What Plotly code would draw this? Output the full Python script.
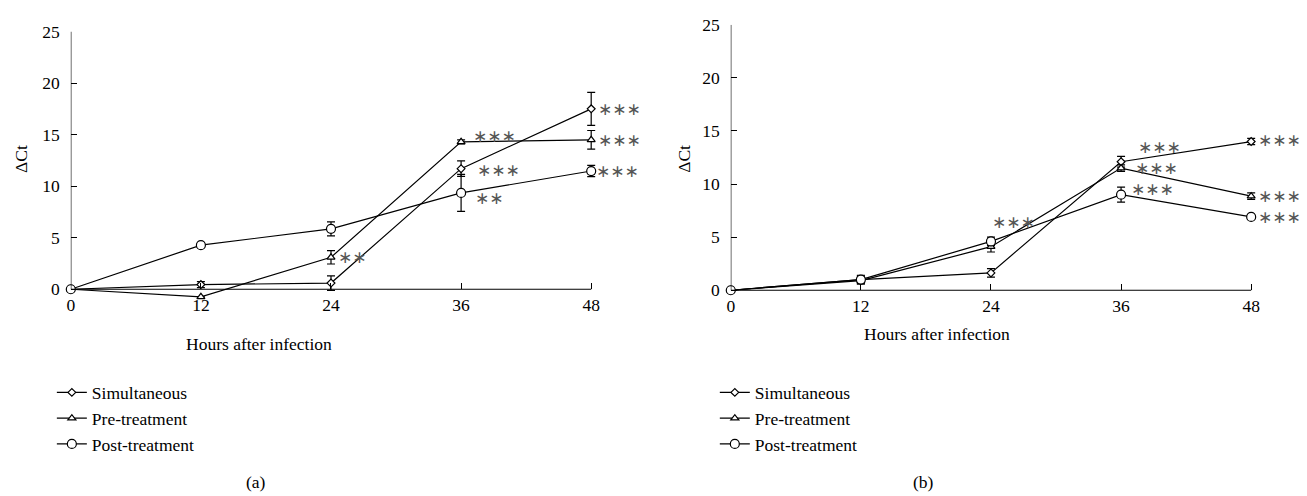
import plotly.graph_objects as go

# ---------------- data ----------------
hours = [0, 12, 24, 36, 48]
series_names = ["Simultaneous", "Pre-treatment", "Post-treatment"]

a_sim = [0, 0.45, 0.6, 11.7, 17.5]
a_sim_err = [0, 0.3, 0.7, 0.75, 1.6]
a_pre = [0, -0.73, 3.1, 14.3, 14.5]
a_pre_err = [0, 0, 0.65, 0.2, 0.9]
a_post = [0, 4.28, 5.86, 9.35, 11.47]
a_post_err = [0, 0.1, 0.68, 1.8, 0.55]

b_sim = [0, 1.0, 1.63, 12.1, 14.0]
b_sim_err = [0, 0.3, 0.4, 0.5, 0.3]
b_pre = [0, 0.9, 4.1, 11.5, 8.86]
b_pre_err = [0, 0.3, 0.5, 0.3, 0.3]
b_post = [0, 1.0, 4.6, 9.0, 6.9]
b_post_err = [0, 0.4, 0.4, 0.7, 0.15]

y_ticks = [0, 5, 10, 15, 20, 25]

# significance labels: text, x (hours), y (ΔCt)
a_sig_text = ["∗∗∗", "∗∗∗", "∗∗∗", "∗∗∗", "∗∗∗", "∗∗", "∗∗"]
a_sig_x = [48.4, 48.4, 48.3, 36.9, 37.3, 37.1, 24.5]
a_sig_y = [17.5, 14.5, 11.5, 14.9, 11.6, 8.9, 3.1]
b_sig_text = ["∗∗∗", "∗∗∗", "∗∗∗", "∗∗∗", "∗∗∗", "∗∗∗", "∗∗∗"]
b_sig_x = [23.9, 37.4, 37.1, 36.7, 48.4, 48.4, 48.4]
b_sig_y = [6.4, 13.5, 11.5, 9.5, 14.1, 8.9, 6.9]

# ---------------- styling / layout helpers ----------------
W, H = 1307, 496
SERIF = "Liberation Serif"
FS = 17.5
symbols = ["diamond", "triangle-up", "circle"]
msizes = [6, 7, 9]
YMIN = -1.5
XMAX = 48.8
PPX = 522 / 48.0  # pixels per hour

def px_x(p):
    return p / W

def px_y(p):
    return 1 - p / H

fig = go.Figure()

panels = [
    dict(vals=[(a_sim, a_sim_err), (a_pre, a_pre_err), (a_post, a_post_err)],
         xa="x", ya="y", legend="legend"),
    dict(vals=[(b_sim, b_sim_err), (b_pre, b_pre_err), (b_post, b_post_err)],
         xa="x2", ya="y2", legend="legend2"),
]

for p in panels:
    for i, (vals, errs) in enumerate(p["vals"]):
        fig.add_trace(go.Scatter(
            x=hours, y=vals, name=series_names[i],
            mode="lines+markers",
            xaxis=p["xa"], yaxis=p["ya"], legend=p["legend"],
            legendgroup=p["legend"] + str(i),
            line=dict(color="black", width=1.2),
            marker=dict(symbol=symbols[i], size=msizes[i], color="white",
                        line=dict(color="black", width=1.2)),
            error_y=dict(type="data", array=errs, visible=True,
                         color="black", thickness=1.2, width=4),
            cliponaxis=False,
        ))

# pixel geometry of the two panels (left, y0 pixel, y25 pixel)
geo = [
    dict(l=67, y0=285, y25=22),
    dict(l=729, y0=286, y25=15),
]
axis_common = dict(showgrid=False, zeroline=False, color="black",
                   tickfont=dict(family=SERIF, size=FS, color="black"))

for k, g in enumerate(geo):
    ppu = (g["y0"] - g["y25"]) / 25.0
    ybot = g["y0"] + (0 - YMIN) * ppu
    r = g["l"] + XMAX * PPX
    sfx = "" if k == 0 else "2"
    fig.layout["xaxis" + sfx] = dict(
        axis_common, domain=[px_x(g["l"]), px_x(r)], range=[0, XMAX],
        tickvals=hours, ticks="inside", ticklen=6, tickwidth=1.2,
        showline=False,
        anchor="free", position=px_y(g["y0"]), ticklabelstandoff=3,
    )
    fig.layout["yaxis" + sfx] = dict(
        axis_common, domain=[px_y(ybot), px_y(g["y25"])], range=[YMIN, 25],
        tickvals=y_ticks, ticks="inside", ticklen=6, tickwidth=1.2,
        showline=False, anchor="x" + sfx, ticklabelstandoff=10,
    )
    # axis lines (y from 0 to 25, x from 0 to 48)
    fig.add_shape(type="line", xref="x" + sfx, yref="y" + sfx,
                  x0=0, x1=0, y0=0, y1=25,
                  line=dict(color="black", width=1.2))
    fig.add_shape(type="line", xref="x" + sfx, yref="y" + sfx,
                  x0=0, x1=48, y0=0, y1=0,
                  line=dict(color="black", width=1.2))

# significance stars
for texts, xs, ys, sfx in [(a_sig_text, a_sig_x, a_sig_y, ""),
                           (b_sig_text, b_sig_x, b_sig_y, "2")]:
    for t, x, y in zip(texts, xs, ys):
        xa = min(x, 48)
        fig.add_annotation(x=xa, y=y, xref="x" + sfx, yref="y" + sfx, text=t,
                           xshift=(x - xa) * PPX,
                           showarrow=False, xanchor="left", yanchor="middle",
                           font=dict(family="DejaVu Sans", size=17, color="#555"))

# axis titles and panel labels
text_font = dict(family=SERIF, size=FS, color="black")
for (xp, yp, t, ang) in [(17, 152, "ΔCt", -90), (682, 152, "ΔCt", -90),
                         (256, 341, "Hours after infection", 0),
                         (936, 331, "Hours after infection", 0),
                         (253, 482, "(a)", 0), (922, 482, "(b)", 0)]:
    fig.add_annotation(x=px_x(xp), y=px_y(yp), xref="paper", yref="paper",
                       text=t, showarrow=False, textangle=ang,
                       xanchor="center", yanchor="middle", font=text_font)

legend_common = dict(font=dict(family=SERIF, size=FS, color="black"),
                     bgcolor="rgba(0,0,0,0)", traceorder="grouped",
                     tracegroupgap=0, xanchor="left", yanchor="top",
                     itemclick=False)
fig.update_layout(
    width=W, height=H,
    margin=dict(l=0, r=0, t=0, b=0),
    paper_bgcolor="white", plot_bgcolor="white",
    showlegend=True,
    legend=dict(legend_common, x=px_x(48), y=px_y(372)),
    legend2=dict(legend_common, x=px_x(713), y=px_y(372)),
)

fig.write_html("out.html")
